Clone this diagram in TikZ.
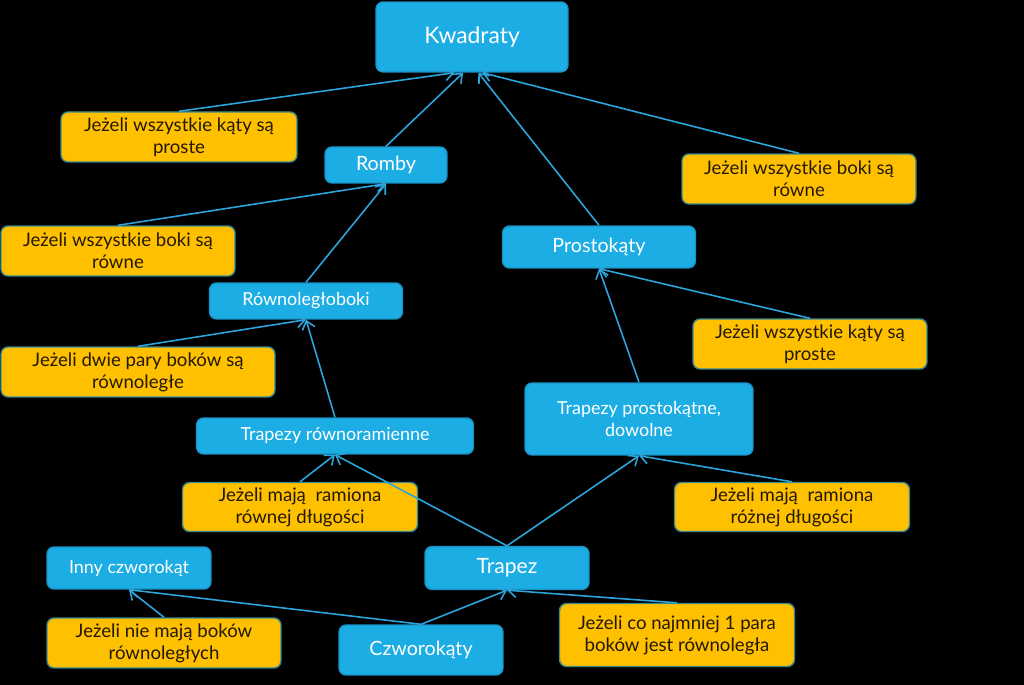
\documentclass[tikz,border=0pt]{standalone}
\usepackage{fontspec}
\setmainfont{Lato}
\usetikzlibrary{arrows.meta}

\definecolor{skyblue}{HTML}{1CADE4}
\definecolor{skyedge}{HTML}{1A93C6}
\definecolor{amber}{HTML}{FFC000}
\definecolor{amberedge}{HTML}{3A8A8E}
\definecolor{linkblue}{HTML}{2BA5DC}
\definecolor{inkbrown}{HTML}{231905}

\tikzset{
  boxdim/.style 2 args={minimum width=#1cm, minimum height=#2cm},
  figbox/.style={rectangle, rounded corners=4pt, fill=skyblue, draw=skyedge, line width=0.8pt,
    text=white, align=center, inner sep=0pt, font=\fontsize{11.2}{13}\selectfont},
  smallfig/.style={figbox, font=\fontsize{10.2}{13}\selectfont},
  condbox/.style={rectangle, rounded corners=4pt, fill=amber, draw=amberedge, line width=0.8pt,
    text=inkbrown, align=center, inner sep=0pt, font=\fontsize{10.6}{12.5}\selectfont},
  link/.style={draw=linkblue, line width=0.9pt, -{Straight Barb[length=1.6mm,width=2.6mm]}}
}

\begin{document}
\begin{tikzpicture}[x=0.02cm,y=-0.02cm]
  \fill[black] (0,0) rectangle (1024,685);

  % figures
  \node[figbox, boxdim={3.84}{1.40}, font=\fontsize{13}{15}\selectfont] (kw) at (472,37) {Kwadraty};
  \node[figbox, boxdim={2.44}{0.72}] (romby) at (386,165) {Romby};
  \node[figbox, boxdim={3.86}{0.84}] (prost) at (599,247) {Prostokąty};
  \node[smallfig, boxdim={3.86}{0.72}] (rown) at (306,301) {Równoległoboki};
  \node[smallfig, boxdim={5.54}{0.72}] (trrow) at (335,436) {Trapezy równoramienne};
  \node[smallfig, boxdim={4.56}{1.44}] (trpro) at (639,419) {Trapezy prostokątne,\\dowolne};
  \node[smallfig, boxdim={3.28}{0.84}] (inny) at (129,568) {Inny czworokąt};
  \node[figbox, boxdim={3.28}{0.86}, font=\fontsize{12}{14}\selectfont] (trapez) at (507,568) {Trapez};
  \node[figbox, boxdim={3.28}{1.00}] (czw) at (421,650) {Czworokąty};

  % conditions
  \node[condbox, boxdim={4.72}{1.00}] (katy1) at (179,137) {Jeżeli wszystkie kąty są\\proste};
  \node[condbox, boxdim={4.68}{1.00}] (boki1) at (799,179) {Jeżeli wszystkie boki są\\równe};
  \node[condbox, boxdim={4.68}{1.00}] (boki2) at (118,251) {Jeżeli wszystkie boki są\\równe};
  \node[condbox, boxdim={4.68}{1.00}] (katy2) at (810,344) {Jeżeli wszystkie kąty są\\proste};
  \node[condbox, boxdim={5.48}{1.00}] (pary) at (138,372) {Jeżeli dwie pary boków są\\równoległe};
  \node[condbox, boxdim={4.70}{0.98}] (ramr) at (300,507) {Jeżeli mają\ \ ramiona\\równej długości};
  \node[condbox, boxdim={4.70}{0.98}] (ramz) at (792,507) {Jeżeli mają\ \ ramiona\\różnej długości};
  \node[condbox, boxdim={4.68}{1.00}] (niem) at (164,643) {Jeżeli nie mają boków\\równoległych};
  \node[condbox, boxdim={4.70}{1.26}] (conaj) at (677,635) {Jeżeli co najmniej 1 para\\boków jest równoległa};

  % links
  \draw[link] (katy1.north) -- (kw.244);
  \draw[link] (romby.north) -- (kw.256);
  \draw[link] (prost.north) -- (kw.280);
  \draw[link] (boki1.north) -- (kw.286);
  \draw[link] (boki2.north) -- (romby.south);
  \draw[link] (rown.north) -- (romby.south);
  \draw[link] (pary.north) -- (rown.south);
  \draw[link] (trrow.north) -- (rown.south);
  \draw[link] (trpro.north) -- (prost.south);
  \draw[link] (katy2.north) -- (prost.south);
  \draw[link] (ramr.north) -- (trrow.south);
  \draw[link] (trapez.north) -- (trrow.south);
  \draw[link] (trapez.north) -- (trpro.south);
  \draw[link] (ramz.north) -- (trpro.south);
  \draw[link] (czw.north) -- (trapez.south);
  \draw[link] (conaj.north) -- (trapez.south);
  \draw[link] (czw.north) -- (inny.south);
  \draw[link] (niem.north) -- (inny.south);
\end{tikzpicture}
\end{document}
